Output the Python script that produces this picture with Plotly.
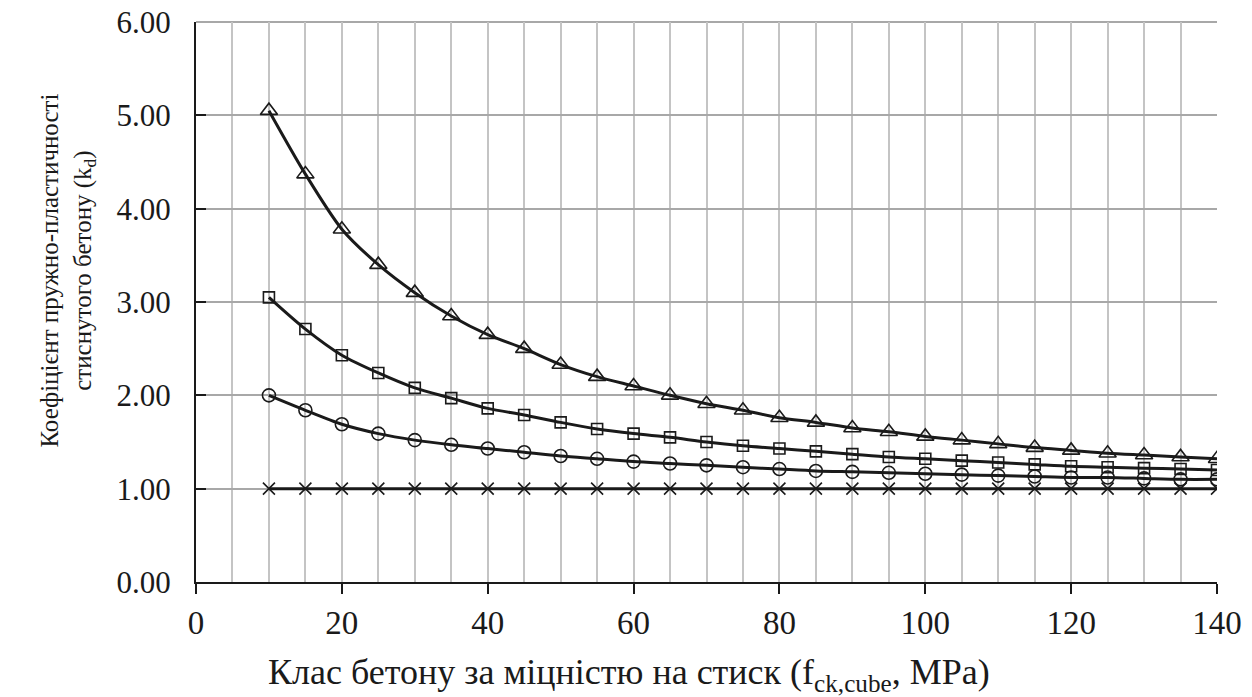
import plotly.graph_objects as go

x_vals = [10, 15, 20, 25, 30, 35, 40, 45, 50, 55, 60, 65, 70, 75, 80, 85, 90, 95,
          100, 105, 110, 115, 120, 125, 130, 135, 140]

tri_vals = [5.05, 4.37, 3.78, 3.40, 3.10, 2.85, 2.65, 2.50, 2.33, 2.20, 2.10, 2.00,
            1.91, 1.84, 1.76, 1.71, 1.65, 1.61, 1.56, 1.52, 1.48, 1.44, 1.41, 1.38,
            1.36, 1.34, 1.32]
sq_vals = [3.05, 2.71, 2.43, 2.24, 2.08, 1.97, 1.86, 1.79, 1.71, 1.64, 1.59, 1.55,
           1.50, 1.46, 1.43, 1.40, 1.37, 1.34, 1.32, 1.30, 1.28, 1.26, 1.24, 1.23,
           1.22, 1.21, 1.20]
circ_vals = [2.00, 1.84, 1.69, 1.59, 1.52, 1.47, 1.43, 1.39, 1.35, 1.32, 1.29, 1.27,
             1.25, 1.23, 1.21, 1.19, 1.18, 1.17, 1.16, 1.15, 1.14, 1.13, 1.12, 1.12,
             1.11, 1.10, 1.10]
x_cross_vals = [1.00] * 27

x_ticks = [0, 20, 40, 60, 80, 100, 120, 140]
y_ticks = [0, 1, 2, 3, 4, 5, 6]

x_title = "Клас бетону за міцністю на стиск (f<sub>ck,cube</sub>, MPa)"
y_title = "Коефіцієнт пружно-пластичності<br>стиснутого бетону (k<sub>d</sub>)"

series = [
    (tri_vals, "triangle-up-open", 15),
    (sq_vals, "square-open", 11),
    (circ_vals, "circle-open", 13),
    (x_cross_vals, "x-thin-open", 12),
]

FONT = "Liberation Serif, Times New Roman, serif"
INK = "#1a1a1a"

fig = go.Figure()
for vals, sym, size in series:
    fig.add_trace(go.Scatter(
        x=x_vals, y=vals, mode="lines+markers",
        line=dict(color=INK, width=3, shape="spline", smoothing=0.8),
        marker=dict(symbol=sym, size=size, color=INK,
                    line=dict(color=INK, width=1.6)),
        showlegend=False,
    ))

fig.add_annotation(
    text=x_title, xref="paper", yref="paper", x=0.424, y=-0.166,
    xanchor="center", yanchor="middle", showarrow=False,
    font=dict(family=FONT, size=36, color=INK),
)
fig.add_annotation(
    text=y_title, xref="paper", yref="paper", x=-0.1249, y=0.557,
    xanchor="center", yanchor="middle", showarrow=False, textangle=-90,
    font=dict(family=FONT, size=25, color=INK),
)
# top frame gridline at the upper end of the value axis
fig.add_shape(type="line", xref="paper", yref="paper", x0=0, x1=1, y0=1, y1=1,
              line=dict(color="#a8a8a8", width=2), layer="below")

fig.update_layout(
    template="none",
    width=1244, height=689,
    margin=dict(l=188, r=35, t=14, b=115),
    paper_bgcolor="white", plot_bgcolor="white",
    font=dict(family=FONT, size=30, color=INK),
    xaxis=dict(
        range=[0, 140], tickvals=x_ticks, ticks="outside", ticklen=10,
        tickwidth=2, tickcolor=INK, automargin=False, ticklabeloverflow="allow",
        showline=True, linecolor=INK, linewidth=2,
        showgrid=True, gridcolor="#c4c4c4", gridwidth=1.5,
        minor=dict(dtick=5, showgrid=True, gridcolor="#c4c4c4", gridwidth=1.5, ticks=""),
        tickfont=dict(family=FONT, size=33),
        zeroline=False,
    ),
    yaxis=dict(
        range=[0, 6], tickvals=y_ticks, tickformat=".2f", ticks="inside",
        ticklen=10, tickwidth=2, tickcolor=INK, automargin=False,
        ticklabelstandoff=17, ticklabeloverflow="allow",
        showline=True, linecolor=INK, linewidth=2,
        showgrid=True, gridcolor="#a8a8a8", gridwidth=2,
        tickfont=dict(family=FONT, size=31),
        zeroline=False,
    ),
)

fig.write_html("out.html")
